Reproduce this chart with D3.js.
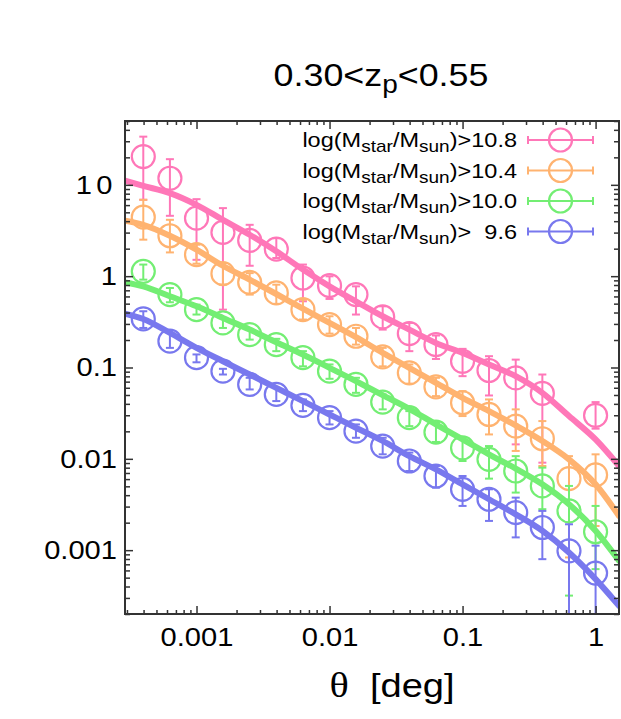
<!DOCTYPE html>
<html>
<head>
<meta charset="utf-8">
<script src="https://cdn.jsdelivr.net/npm/d3@7"></script>
<style>
  body { margin: 0; background: #fff; }
  svg { display: block; }
  text { font-family: "Liberation Sans", Arial, sans-serif; fill: #000; }
</style>
</head>
<body>
<svg id="chart" width="621" height="719"></svg>
<script>
// angular separation of the measured points [deg]
const theta = [3.98e-4, 6.31e-4, 1.00e-3, 1.58e-3, 2.51e-3, 3.98e-3, 6.31e-3, 0.0100, 0.0158,
    0.0251, 0.0398, 0.0631, 0.100, 0.158, 0.251, 0.398, 0.631, 1.00];
// model curve sampling [deg]
const thetaModel = [2.9e-4, 3.98e-4, 6.31e-4, 1.00e-3, 1.58e-3, 2.51e-3, 3.98e-3, 6.31e-3, 0.0100, 0.0158,
    0.0251, 0.0398, 0.0631, 0.100, 0.158, 0.251, 0.398, 0.631, 1.00, 1.5];

// log(Mstar/Msun) > 10.8
const w108 = [20.4, 11.8, 4.32, 3.01, 2.46, 1.98, 0.955, 0.787, 0.628, 0.358, 0.235, 0.178, 0.117,
    0.0927, 0.0771, 0.0520, null, 0.0299];
const w108Hi = [33.7, 19.1, 6.97, 5.56, 3.65, 2.61, 1.34, 0.996, 0.774, 0.468, 0.308, 0.224, 0.160,
    0.133, 0.122, 0.0838, null, 0.0418];
const w108Lo = [6.86, 4.58, 1.51, 0.430, 1.30, 1.58, 0.531, 0.563, 0.380, 0.260, 0.151, 0.124, 0.0804,
    0.0494, 0.0144, 0.00908, null, 0.0214];
const model108 = [11.1, 9.75, 8.11, 6.04, 4.14, 2.84, 1.87, 1.18, 0.774, 0.531, 0.364, 0.260, 0.186,
    0.1446, 0.108, 0.0804, 0.0528, 0.0294, 0.0163, 0.00835];

// log(Mstar/Msun) > 10.4
const w104 = [4.43, 2.77, 1.72, 1.065, 0.856, 0.655, 0.430, 0.295, 0.220, 0.131, 0.0874, 0.0615, 0.0411,
    0.0306, 0.0228, 0.0166, 0.00607, 0.00666];
const w104Hi = [6.86, 4.14, 2.21, 1.39, 1.08, 0.807, 0.553, 0.364, 0.271, 0.164, 0.108, 0.0771, 0.0551,
    0.0447, 0.0348, 0.0259, 0.0107, 0.0112];
const w104Lo = [2.51, 1.82, 1.37, 0.807, 0.628, 0.498, 0.335, 0.235, 0.178, 0.103, 0.0666, 0.0486, 0.0294,
    0.0185, 0.0122, 0.00835, 0.000832, 0.00184];
const model104 = [4.04, 3.65, 2.77, 1.95, 1.30, 0.916, 0.638, 0.441, 0.308, 0.215, 0.1446, 0.0992, 0.0680,
    0.0466, 0.0333, 0.0232, 0.0157, 0.00988, 0.00526, 0.00237];

// log(Mstar/Msun) > 10.0
const w100 = [1.13, 0.628, 0.430, 0.308, 0.229, 0.178, 0.128, 0.0912, 0.0652, 0.0418, 0.0282, 0.0196,
    0.0132, 0.00988, 0.00736, 0.00505, 0.00269, 0.00159];
const w100Hi = [1.34, 0.742, 0.488, 0.349, 0.260, 0.206, 0.151, 0.108, 0.0771, 0.0507, 0.0333, 0.0248,
    0.0170, 0.0138, 0.0107, 0.00801, 0.00505, 0.00305];
const w100Lo = [0.916, 0.518, 0.380, 0.271, 0.202, 0.151, 0.103, 0.0752, 0.0528, 0.0348, 0.0228, 0.0153,
    0.00947, 0.00607, 0.00427, 0.00281, 0.000318, 0.000620];
const model100 = [0.856, 0.774, 0.602, 0.468, 0.349, 0.260, 0.189, 0.139, 0.0992, 0.0709, 0.0498, 0.0353,
    0.0238, 0.0163, 0.0112, 0.00781, 0.00526, 0.00318, 0.00163, 0.000765];

// log(Mstar/Msun) > 9.6
const w96 = [0.340, 0.194, 0.128, 0.0912, 0.0652, 0.0507, 0.0384, 0.0282, 0.0201, 0.0138, 0.00947,
    0.00649, 0.00464, 0.00361, 0.00258, 0.00177, 0.000983, 0.000561];
const w96Hi = [0.413, 0.239, 0.139, 0.0967, 0.0771, 0.0599, 0.0447, 0.0333, 0.0238, 0.0170, 0.0117,
    0.00835, 0.00649, 0.00464, 0.00376, 0.00269, 0.00192, 0.00112];
const w96Lo = [0.271, 0.164, 0.114, 0.0838, 0.0575, 0.0429, 0.0333, 0.0238, 0.0170, 0.0112, 0.00736,
    0.00484, 0.00305, 0.00209, 0.00138, 0.000797, 0.0001, 0.0001];
const model96 = [0.389, 0.340, 0.239, 0.164, 0.117, 0.0838, 0.0599, 0.0429, 0.0306, 0.0219, 0.0157,
    0.0107, 0.00768, 0.00526, 0.00361, 0.00247, 0.00163, 0.000943, 0.000482, 0.000246];

const legendCuts = ["10.8", "10.4", "10.0", "  9.6"];
const colors = ["#ff77b8", "#ffb370", "#73ee73", "#7878ee"];

const xTicks = [0.001, 0.01, 0.1, 1];
const yTicks = [10, 1, 0.1, 0.01, 0.001];

const series = [
    { w: w108, hi: w108Hi, lo: w108Lo, model: model108 },
    { w: w104, hi: w104Hi, lo: w104Lo, model: model104 },
    { w: w100, hi: w100Hi, lo: w100Lo, model: model100 },
    { w: w96, hi: w96Hi, lo: w96Lo, model: model96 },
];

const pL = 125, pR = 619, pT = 121, pB = 614;
const SX = 1.12; // text is a bit wide in the original

const svg = d3.select("#chart");

const x = d3.scaleLog().domain([2.9e-4, 1.5]).range([pL, pR]);
const y = d3.scaleLog().domain([2e-4, 50]).range([pB, pT]);

svg.append("defs").append("clipPath").attr("id", "plotclip")
    .append("rect")
    .attr("x", pL).attr("y", pT)
    .attr("width", pR - pL).attr("height", pB - pT);

const plot = svg.append("g").attr("clip-path", "url(#plotclip)");

// data points with error bars
series.forEach((s, i) => {
    const pts = theta.map((t, k) => ({ t: t, v: s.w[k], hi: s.hi[k], lo: s.lo[k] }))
        .filter(d => d.v != null);
    const g = plot.append("g")
        .attr("stroke", colors[i])
        .attr("fill", "none");

    g.selectAll(".bar").data(pts).enter().append("line")
        .attr("x1", d => x(d.t)).attr("x2", d => x(d.t))
        .attr("y1", d => y(d.hi)).attr("y2", d => y(d.lo))
        .attr("stroke-width", 2);
    g.selectAll(".capHi").data(pts).enter().append("line")
        .attr("x1", d => x(d.t) - 4).attr("x2", d => x(d.t) + 4)
        .attr("y1", d => y(d.hi)).attr("y2", d => y(d.hi))
        .attr("stroke-width", 2);
    g.selectAll(".capLo").data(pts).enter().append("line")
        .attr("x1", d => x(d.t) - 4).attr("x2", d => x(d.t) + 4)
        .attr("y1", d => y(d.lo)).attr("y2", d => y(d.lo))
        .attr("stroke-width", 2);
    g.selectAll("circle").data(pts).enter().append("circle")
        .attr("cx", d => x(d.t)).attr("cy", d => y(d.v))
        .attr("r", 11.5)
        .attr("stroke-width", 2.2);
});

// model curves
const line = d3.line()
    .x(d => x(d[0]))
    .y(d => y(d[1]))
    .curve(d3.curveMonotoneX);

series.forEach((s, i) => {
    plot.append("path")
        .attr("d", line(thetaModel.map((t, k) => [t, s.model[k]])))
        .attr("fill", "none")
        .attr("stroke", colors[i])
        .attr("stroke-width", 6)
        .attr("stroke-linecap", "round");
});

// axes, ticks inward on all four sides
function stretch(sel) {
    sel.each(function () {
        const t = d3.select(this);
        const tx = +t.attr("x") || 0, ty = +t.attr("y") || 0;
        t.attr("x", 0).attr("y", 0)
            .attr("transform", `translate(${tx},${ty}) scale(${SX},1)`);
    });
}

const xMinor = x.ticks().filter(v => !xTicks.some(m => Math.abs(v / m - 1) < 1e-6));
const yMinor = y.ticks().filter(v => !yTicks.some(m => Math.abs(v / m - 1) < 1e-6));

function axisStyle(g) {
    g.select(".domain").remove();
    g.selectAll(".tick line").attr("stroke", "#333").attr("stroke-width", 1.5);
}

const xAxis = svg.append("g").attr("transform", `translate(0,${pB})`)
    .call(d3.axisBottom(x).tickValues(xTicks).tickSize(-8).tickPadding(14).tickFormat(d3.format("~g")));
xAxis.call(axisStyle);
xAxis.selectAll("text").attr("font-size", 26).attr("font-family", "Liberation Sans, Arial, sans-serif").call(stretch);

svg.append("g").attr("transform", `translate(0,${pB})`)
    .call(d3.axisBottom(x).tickValues(xMinor).tickSize(-4).tickFormat(""))
    .call(axisStyle);
svg.append("g").attr("transform", `translate(0,${pT})`)
    .call(d3.axisTop(x).tickValues(xTicks).tickSize(-8).tickFormat(""))
    .call(axisStyle);
svg.append("g").attr("transform", `translate(0,${pT})`)
    .call(d3.axisTop(x).tickValues(xMinor).tickSize(-4).tickFormat(""))
    .call(axisStyle);

const yAxis = svg.append("g").attr("transform", `translate(${pL},0)`)
    .call(d3.axisLeft(y).tickValues(yTicks).tickSize(-8).tickPadding(8).tickFormat(d3.format("~g")));
yAxis.call(axisStyle);
yAxis.selectAll("text").attr("font-size", 26).attr("font-family", "Liberation Sans, Arial, sans-serif")
    .attr("letter-spacing", d => d === 10 ? 4 : 0)
    .call(stretch);

svg.append("g").attr("transform", `translate(${pL},0)`)
    .call(d3.axisLeft(y).tickValues(yMinor).tickSize(-5).tickFormat(""))
    .call(axisStyle);
svg.append("g").attr("transform", `translate(${pR},0)`)
    .call(d3.axisRight(y).tickValues(yTicks).tickSize(-8).tickFormat(""))
    .call(axisStyle);
svg.append("g").attr("transform", `translate(${pR},0)`)
    .call(d3.axisRight(y).tickValues(yMinor).tickSize(-5).tickFormat(""))
    .call(axisStyle);

// frame
svg.append("rect")
    .attr("x", pL).attr("y", pT)
    .attr("width", pR - pL).attr("height", pB - pT)
    .attr("fill", "none").attr("stroke", "#333").attr("stroke-width", 2);

// legend
const legend = svg.append("g");
legendCuts.forEach((c, i) => {
    const cy = 140 + 30.5 * i;
    const t = legend.append("text")
        .attr("x", 0).attr("y", 0)
        .attr("transform", `translate(517,${cy + 7}) scale(${SX},1)`)
        .attr("text-anchor", "end")
        .attr("font-size", 21)
        .attr("xml:space", "preserve")
        .style("white-space", "pre");
    t.append("tspan").text("log(M");
    t.append("tspan").attr("font-size", 17).attr("dy", 5).text("star");
    t.append("tspan").attr("dy", -5).text("/M");
    t.append("tspan").attr("font-size", 17).attr("dy", 5).text("sun");
    t.append("tspan").attr("dy", -5).text(")>" + c);

    const g = legend.append("g").attr("stroke", colors[i]).attr("fill", "none").attr("stroke-width", 2);
    g.append("line").attr("x1", 528).attr("x2", 593).attr("y1", cy).attr("y2", cy);
    g.append("line").attr("x1", 528).attr("x2", 528).attr("y1", cy - 4).attr("y2", cy + 4);
    g.append("line").attr("x1", 593).attr("x2", 593).attr("y1", cy - 4).attr("y2", cy + 4);
    g.append("circle").attr("cx", 560.5).attr("cy", cy).attr("r", 11.5).attr("stroke-width", 2.2);
});

// title
const title = svg.append("text")
    .attr("x", 0).attr("y", 0)
    .attr("transform", `translate(381,86) scale(${SX},1)`)
    .attr("text-anchor", "middle")
    .attr("font-size", 32);
title.append("tspan").text("0.30<z");
title.append("tspan").attr("font-size", 25).attr("dy", 7).text("p");
title.append("tspan").attr("dy", -7).text("<0.55");

// x axis label
const xl = svg.append("text")
    .attr("x", 0).attr("y", 0)
    .attr("transform", `translate(392,697) scale(${SX},1)`)
    .attr("text-anchor", "middle")
    .attr("font-size", 34)
    .attr("xml:space", "preserve")
    .style("white-space", "pre");
xl.append("tspan").attr("font-family", "Liberation Serif, DejaVu Serif, serif").attr("font-size", 36).text("θ");
xl.append("tspan").text("  [deg]");
</script>
</body>
</html>
